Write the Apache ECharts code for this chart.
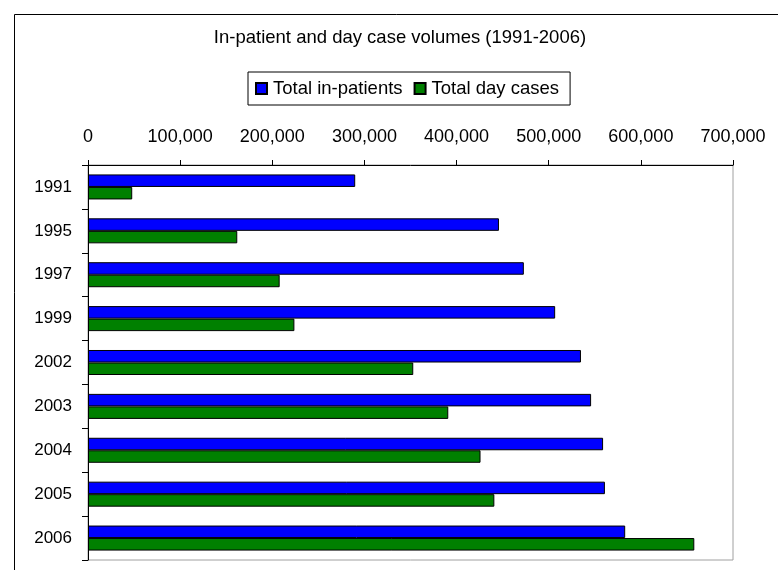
<!DOCTYPE html>
<html>
<head>
<meta charset="utf-8">
<title>In-patient and day case volumes (1991-2006)</title>
<script src="https://cdn.jsdelivr.net/npm/echarts@6/dist/echarts.min.js"></script>
<style>
  html, body { margin: 0; padding: 0; background: #fff; }
  #chart { width: 778px; height: 570px; }
</style>
</head>
<body>
<div id="chart"></div>
<script>
// Years shown on the category axis (top to bottom)
const years = ['1991', '1995', '1997', '1999', '2002', '2003', '2004', '2005', '2006'];
// Total in-patient volumes per year
const inPatients = [290000, 446000, 473000, 507000, 535000, 546000, 559000, 561000, 583000];
// Total day case volumes per year
const dayCases = [48000, 162000, 208000, 224000, 353000, 391000, 426000, 441000, 658000];
// Value axis range and step
const valueMin = 0;
const valueMax = 700000;
const valueStep = 100000;

const FONT = '"Liberation Sans", Arial, sans-serif';

function withCommas(v) {
  return String(v).replace(/\B(?=(\d{3})+(?!\d))/g, ',');
}

const chart = echarts.init(document.getElementById('chart'), null, { renderer: 'canvas' });

chart.setOption({
  animation: false,
  backgroundColor: '#ffffff',
  textStyle: { fontFamily: FONT, color: '#000' },
  title: {
    text: 'In-patient and day case volumes (1991-2006)',
    left: 400,
    top: 28,
    padding: 0,
    textAlign: 'center',
    textStyle: { fontFamily: FONT, fontSize: 18.5, fontWeight: 'normal', color: '#000' }
  },
  legend: {
    left: 248,
    top: 72,
    orient: 'horizontal',
    padding: [7, 11, 7, 7],
    itemGap: 11,
    itemWidth: 11,
    itemHeight: 11,
    icon: 'rect',
    borderColor: '#000',
    borderWidth: 1,
    textStyle: { fontFamily: FONT, fontSize: 18.5, color: '#000', padding: [0, 0, 0, 1] },
    data: ['Total in-patients', 'Total day cases']
  },
  grid: {
    left: 88,
    top: 165,
    width: 645,
    height: 395,
    show: true,
    borderColor: '#a0a0a0',
    borderWidth: 1,
    backgroundColor: 'transparent'
  },
  graphic: [{
    type: 'rect',
    left: 12,
    top: 12,
    shape: { x: 0, y: 0, width: 800, height: 600 },
    style: { fill: null, stroke: '#000', lineWidth: 1 },
    silent: true
  }],
  xAxis: {
    type: 'value',
    position: 'top',
    min: valueMin,
    max: valueMax,
    interval: valueStep,
    axisLine: { show: true, lineStyle: { color: '#000', width: 1 } },
    axisTick: { show: true, inside: false, length: 5, lineStyle: { color: '#000' } },
    splitLine: { show: false },
    axisLabel: {
      margin: 19,
      fontFamily: FONT,
      fontSize: 18,
      color: '#000',
      formatter: withCommas
    }
  },
  yAxis: {
    type: 'category',
    inverse: true,
    data: years,
    axisLine: { show: true, lineStyle: { color: '#000', width: 1 } },
    axisTick: { show: true, inside: false, length: 6, lineStyle: { color: '#000' } },
    axisLabel: { margin: 16, fontFamily: FONT, fontSize: 17, color: '#000' }
  },
  series: [
    {
      name: 'Total in-patients',
      type: 'bar',
      data: inPatients,
      barGap: '0%',
      barCategoryGap: '43%',
      itemStyle: { color: '#0000ff', borderColor: '#000', borderWidth: 1 }
    },
    {
      name: 'Total day cases',
      type: 'bar',
      data: dayCases,
      barGap: '0%',
      barCategoryGap: '43%',
      itemStyle: { color: '#008000', borderColor: '#000', borderWidth: 1 }
    }
  ]
});
</script>
</body>
</html>
